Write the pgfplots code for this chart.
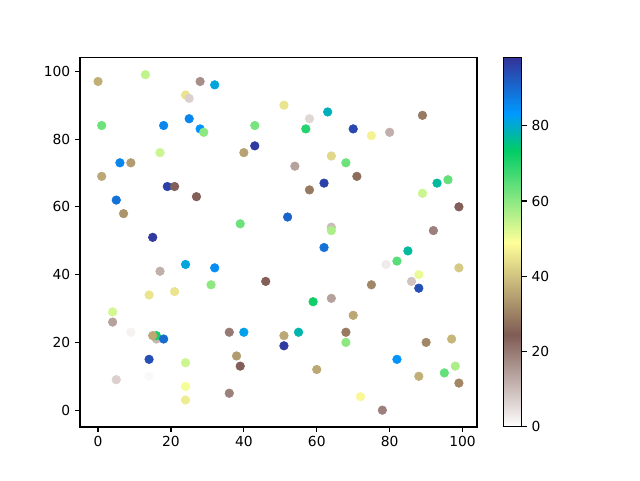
\documentclass[border=0pt]{standalone}
\usepackage{pgfplots}
\pgfplotsset{compat=1.18}
\usepackage{fontspec}
\setmainfont{DejaVu Sans}
\begin{document}
\begin{tikzpicture}[x=1bp,y=1bp]
\useasboundingbox (0,0) rectangle (460.8,345.6);
\begin{axis}[
  at={(57.6bp,38.2bp)}, anchor=south west,
  scale only axis, width=285.8bp, height=265.7bp,
  xmin=-4.95, xmax=103.95, ymin=-4.95, ymax=103.95,
  xtick={0,20,...,100}, ytick={0,20,...,100},
  tick align=outside, tick pos=left, major tick length=3.5bp,
  tick style={black, line width=0.8bp},
  axis line style={line width=0.8bp},
  ticklabel style={font=\fontsize{10}{12}\selectfont},
  /pgf/number format/assume math mode=true,
  colormap={terrainr}{rgb(0pt)=(1,1,1) rgb(25pt)=(0.5,0.36,0.33) rgb(50pt)=(1,1,0.6) rgb(75pt)=(0,0.8,0.4) rgb(85pt)=(0,0.6,1) rgb(100pt)=(0.2,0.2,0.6)},
  point meta min=0, point meta max=98,
  colorbar,
  colorbar style={
    at={(parent axis.north east)}, anchor=north west, xshift=10.8bp,
    width=13bp,
    ytick={0,20,...,80}, ytick pos=right, yticklabel pos=right,
    tick align=outside, major tick length=3.5bp,
    tick style={black, line width=0.8bp},
    axis line style={line width=0.8bp},
    ticklabel style={font=\fontsize{10}{12}\selectfont},
    /pgf/number format/assume math mode=true,
  },
]
\addplot[scatter, only marks, mark=*, mark size=3.1bp, scatter src=explicit,
  scatter/use mapped color={draw=mapped color, fill=mapped color}]
table[meta=c]{
x y c
0 97 37
13 99 55
28 97 17
32 96 81
24 93 45
25 92 7
1 84 63
18 84 86
25 86 86
28 83 84
29 82 60
6 73 86
9 73 34
17 76 54
1 69 36
5 62 89
7 58 33
19 66 96
21 66 24
27 63 24
15 51 97
24 43 81
32 42 85
17 41 12
21 35 45
14 34 45
31 37 60
4 29 53
4 26 14
9 23 2
16 21 11
16 22 72
15 22 36
18 21 90
14 15 94
24 14 54
14 10 1
5 9 7
24 7 50
24 3 46
40 76 35
43 78 97
43 84 62
51 90 45
58 86 6
57 83 70
63 88 79
54 72 14
58 65 29
64 75 43
62 67 96
68 73 63
70 83 95
71 69 27
75 81 47
80 82 12
89 87 29
39 55 63
52 57 91
64 54 10
64 53 57
62 48 89
46 38 24
59 32 72
64 33 14
36 23 20
40 23 82
51 22 36
55 23 78
51 19 97
38 16 34
39 13 24
36 5 19
60 12 36
68 23 29
68 20 60
70 28 36
89 64 54
93 67 77
96 68 64
99 60 24
92 53 19
85 47 77
82 44 65
79 43 3
99 42 41
86 38 9
88 40 51
88 36 94
75 37 31
97 21 38
90 20 31
82 15 84
98 13 57
95 11 64
99 8 31
88 10 37
72 4 48
78 0 19
};
\end{axis}
\end{tikzpicture}
\end{document}
